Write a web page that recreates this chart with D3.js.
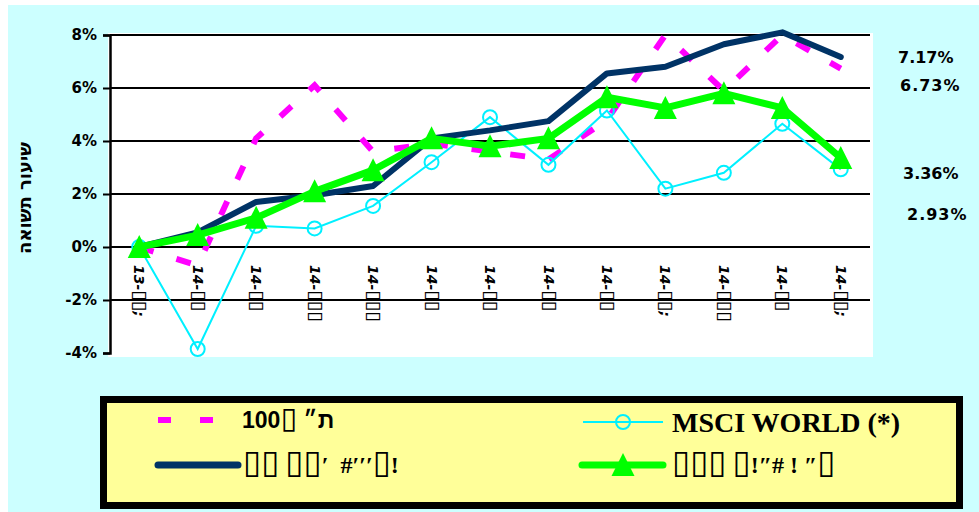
<!DOCTYPE html>
<html>
<head>
<meta charset="utf-8">
<script src="https://cdn.jsdelivr.net/npm/d3@7"></script>
<style>
  html, body { margin: 0; padding: 0; background: #ffffff; }
  svg { display: block; }
</style>
</head>
<body>
<script>
// Category labels (month-year), as they appear on the axis
const categories = ["13-▯▯;", "14-▯▯", "14-▯▯", "14-▯▯▯", "14-▯▯▯", "14-▯▯", "14-▯▯",
                    "14-▯▯", "14-▯▯", "14-▯▯;", "14-▯▯▯", "14-▯▯", "14-▯▯;"];

// Cumulative return (%) per series
const ta100      = [0, -0.7, 4.1, 6.1, 3.6, 3.9, 3.6, 3.3, 4.8, 8.0, 5.9, 8.0, 6.73];
const msciWorld  = [0, -3.85, 0.8, 0.7, 1.55, 3.2, 4.9, 3.1, 5.15, 2.2, 2.8, 4.65, 2.93];
const fundNavy   = [0, 0.55, 1.7, 1.95, 2.3, 4.1, 4.4, 4.75, 6.55, 6.8, 7.65, 8.1, 7.17];
const fundGreen  = [0, 0.45, 1.1, 2.1, 2.9, 4.1, 3.8, 4.1, 5.65, 5.25, 5.8, 5.25, 3.36];

// Y axis ticks (%)
const yTicks = [-4, -2, 0, 2, 4, 6, 8];

// Legend names
const legendNames = ["100▯ ״ת", "MSCI WORLD (*)", "▯▯ ▯▯′  #′′′▯!", "▯▯▯ ▯!″# ! ″▯"];

// End-of-period value labels
const endLabels = [7.17, 6.73, 3.36, 2.93];

const W = 979, H = 512;
const svg = d3.select("body").append("svg").attr("width", W).attr("height", H);

// Lays a string out left to right, piece by piece, so glyphs keep the typed order;
// runs of box glyphs get their own size
function writeRuns(sel, str, boxSize, x0) {
  let cursor = x0;
  str.split(/(▯+|[\u0590-\u05FF])/).filter(s => s.length).forEach(part => {
    const t = sel.append("tspan").attr("x", cursor).text(part);
    if (part[0] === "▯") t.attr("font-family", "DejaVu Sans").attr("font-size", boxSize).attr("font-weight", "normal");
    cursor += t.node().getComputedTextLength();
  });
}

// page background
svg.append("rect").attr("x", 8).attr("y", 5).attr("width", W - 8).attr("height", H - 5).attr("fill", "#ccffff");

// plot area
const plot = { left: 110, right: 870, top: 35, bottom: 353 };
svg.append("rect").attr("x", 108).attr("y", 33).attr("width", 765).attr("height", 324).attr("fill", "#ffffff");

const x = d3.scalePoint().domain(d3.range(categories.length)).range([plot.left, plot.right]).padding(0.5);
const y = d3.scaleLinear().domain([-4, 8]).range([plot.bottom, plot.top]);

// horizontal gridlines
svg.append("g").selectAll("line").data(yTicks.filter(t => t > -4)).join("line")
  .attr("x1", plot.left).attr("x2", plot.right)
  .attr("y1", d => y(d)).attr("y2", d => y(d))
  .attr("stroke", "#000").attr("stroke-width", 2);

// y axis
const yAxis = svg.append("g").attr("transform", `translate(${plot.left},0)`)
  .call(d3.axisLeft(y).tickValues(yTicks).tickSize(7).tickPadding(6).tickFormat(d => d + "%"));
yAxis.select(".domain").attr("stroke", "#000").attr("stroke-width", 2.5);
yAxis.selectAll(".tick line").attr("stroke", "#000").attr("stroke-width", 2);
yAxis.selectAll(".tick text")
  .attr("font-family", "DejaVu Sans").attr("font-weight", "bold").attr("font-size", 15).attr("fill", "#000");

// y title
svg.append("text")
  .attr("transform", "translate(25,198) rotate(-90)")
  .attr("text-anchor", "middle").attr("dy", "0.35em")
  .attr("font-family", "DejaVu Sans").attr("font-weight", "bold").attr("font-size", 18)
  .text("שיעור תשואה");

// x category labels (rotated)
svg.append("g").selectAll("text").data(categories).join("text")
  .attr("transform", (d, i) => `translate(${x(i)},265) rotate(90)`)
  .attr("dy", "0.35em")
  .attr("font-family", "DejaVu Sans").attr("font-weight", "bold").attr("font-style", "italic")
  .attr("font-size", 14).attr("fill", "#000")
  .style("white-space", "pre")
  .each(function (d) { writeRuns(d3.select(this), d, 19, 0); });

const line = d3.line().x((d, i) => x(i)).y(d => y(d));

// TA-100 dashed
svg.append("path").datum(ta100).attr("d", line)
  .attr("fill", "none").attr("stroke", "#ff00ff").attr("stroke-width", 6)
  .attr("stroke-dasharray", "15,24");

// MSCI World
svg.append("path").datum(msciWorld).attr("d", line)
  .attr("fill", "none").attr("stroke", "#00f0ff").attr("stroke-width", 2);
svg.append("g").selectAll("circle").data(msciWorld).join("circle")
  .attr("cx", (d, i) => x(i)).attr("cy", d => y(d)).attr("r", 7)
  .attr("fill", "none").attr("stroke", "#00f0ff").attr("stroke-width", 2);

// navy fund
svg.append("path").datum(fundNavy).attr("d", line)
  .attr("fill", "none").attr("stroke", "#003366").attr("stroke-width", 6)
  .attr("stroke-linejoin", "round").attr("stroke-linecap", "round");

// green fund
const tri = "M0,-12L11.5,11L-11.5,11Z";
svg.append("path").datum(fundGreen).attr("d", line)
  .attr("fill", "none").attr("stroke", "#00ff00").attr("stroke-width", 7)
  .attr("stroke-linejoin", "round");
svg.append("g").selectAll("path").data(fundGreen).join("path")
  .attr("d", tri).attr("transform", (d, i) => `translate(${x(i)},${y(d)})`)
  .attr("fill", "#00ff00");

// end value labels (nudged apart to avoid overlap)
const labelNudge = [0, 17, 15, 45];
const labelX = [898, 900, 903, 907];
const labelSpacing = [0, 1, 0, 1];
svg.append("g").selectAll("text").data(endLabels).join("text")
  .attr("x", (d, i) => labelX[i]).attr("y", (d, i) => y(d) + labelNudge[i])
  .attr("dy", "0.35em")
  .attr("letter-spacing", (d, i) => labelSpacing[i])
  .attr("font-family", "DejaVu Sans").attr("font-weight", "bold").attr("font-size", 16)
  .text(d => d.toFixed(2) + "%");

// legend
svg.append("rect").attr("x", 103.5).attr("y", 399.5).attr("width", 856).attr("height", 106)
  .attr("fill", "#ffff99").attr("stroke", "#000").attr("stroke-width", 7);

const lg = svg.append("g");
// TA-100 sample
lg.append("line").attr("x1", 158).attr("x2", 216).attr("y1", 420).attr("y2", 420)
  .attr("stroke", "#ff00ff").attr("stroke-width", 6).attr("stroke-dasharray", "13,29");
lg.append("text").attr("y", 420).attr("dy", "0.35em")
  .attr("font-family", "Liberation Sans").attr("font-weight", "bold").attr("font-size", 23)
  .style("white-space", "pre")
  .each(function () { writeRuns(d3.select(this), legendNames[0], 30, 242); });
// navy sample
lg.append("line").attr("x1", 158).attr("x2", 238).attr("y1", 465).attr("y2", 465)
  .attr("stroke", "#003366").attr("stroke-width", 7).attr("stroke-linecap", "round");
lg.append("text").attr("y", 465).attr("dy", "0.35em")
  .attr("font-family", "Liberation Serif").attr("font-weight", "bold").attr("font-size", 24)
  .style("white-space", "pre")
  .each(function () { writeRuns(d3.select(this), legendNames[2], 33, 243); });
// MSCI sample
lg.append("line").attr("x1", 583).attr("x2", 663).attr("y1", 422).attr("y2", 422)
  .attr("stroke", "#00f0ff").attr("stroke-width", 2);
lg.append("circle").attr("cx", 623).attr("cy", 422).attr("r", 7)
  .attr("fill", "none").attr("stroke", "#00f0ff").attr("stroke-width", 2);
lg.append("text").attr("x", 672).attr("y", 422).attr("dy", "0.35em")
  .attr("font-family", "Liberation Serif").attr("font-weight", "bold").attr("font-size", 28)
  .text(legendNames[1]);
// green sample
lg.append("line").attr("x1", 582).attr("x2", 663).attr("y1", 465).attr("y2", 465)
  .attr("stroke", "#00ff00").attr("stroke-width", 7).attr("stroke-linecap", "round");
lg.append("path").attr("d", tri).attr("transform", "translate(623,465)").attr("fill", "#00ff00");
lg.append("text").attr("y", 465).attr("dy", "0.35em")
  .attr("font-family", "Liberation Serif").attr("font-weight", "bold").attr("font-size", 24)
  .style("white-space", "pre")
  .each(function () { writeRuns(d3.select(this), legendNames[3], 33, 672); });
</script>
</body>
</html>
